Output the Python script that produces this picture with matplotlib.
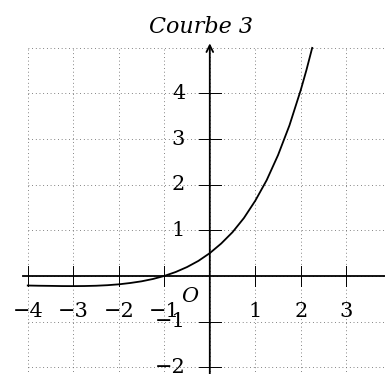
import matplotlib
matplotlib.use('Agg')
from matplotlib import pyplot as plt

# curve points
curve_x = [-4, -3.75, -3.5, -3.25, -3, -2.75, -2.5, -2.25, -2, -1.75, -1.5, -1.25, -1,
           -0.75, -0.5, -0.25, 0, 0.25, 0.5, 0.75, 1, 1.25, 1.5, 1.75, 2, 2.125, 2.25]
curve_y = [-0.21, -0.215, -0.218, -0.222, -0.223, -0.221, -0.215, -0.203, -0.184, -0.155,
           -0.118, -0.067, 0, 0.086, 0.195, 0.33, 0.5, 0.71, 0.96, 1.27, 1.65, 2.10, 2.65,
           3.30, 4.08, 4.52, 5.0]

x_ticks = [-4, -3, -2, -1, 1, 2, 3]
y_ticks = [-2, -1, 1, 2, 3, 4]
grid_x = [-4, -3, -2, -1, 0, 1, 2, 3]
grid_y = [-2, -1, 0, 1, 2, 3, 4, 5]
title = "Courbe 3"

plt.rcParams['font.family'] = ['DejaVu Serif']

fig = plt.figure(figsize=(3.85, 3.74), dpi=100)
ax = fig.add_axes([0, 0, 1, 1])
ax.set_xlim(-4.61, 3.85)
ax.set_ylim(-2.15, 6.05)
ax.axis('off')

# dotted grid
for gx in grid_x:
    ax.plot([gx, gx], [-2.3, 5], color='0.4', lw=0.7, ls=(0, (0.8, 3.0)), zorder=1)
for gy in grid_y:
    ax.plot([-4, 4], [gy, gy], color='0.4', lw=0.7, ls=(0, (0.8, 3.0)), zorder=1)

# axes
ax.plot([-4.1, 4], [0, 0], color='black', lw=1.3, zorder=3)
ax.annotate('', xy=(0, 5.1), xytext=(0, -2.3),
            arrowprops=dict(arrowstyle='->', color='black', lw=1.3,
                            shrinkA=0, shrinkB=0, mutation_scale=12), zorder=3)

for t in x_ticks:
    ax.plot([t, t], [-0.22, 0.22], color='black', lw=0.7, zorder=3)
    ax.text(t, -0.77, str(t).replace('-', '\u2212'), ha='center', va='center',
            fontsize=15, zorder=4)
for t in y_ticks:
    ax.plot([-0.24, 0.24], [t, t], color='black', lw=0.7, zorder=3)
    ax.text(-0.54, t, str(t).replace('-', '\u2212'), ha='right', va='center',
            fontsize=15, zorder=4)

ax.text(-0.43, -0.45, 'O', ha='center', va='center', fontsize=15, style='italic')

ax.plot(curve_x, curve_y, color='black', lw=1.3, zorder=5)

ax.text(-0.2, 5.45, title, ha='center', va='center', fontsize=16, style='italic')

plt.savefig('out.png', dpi=100)
